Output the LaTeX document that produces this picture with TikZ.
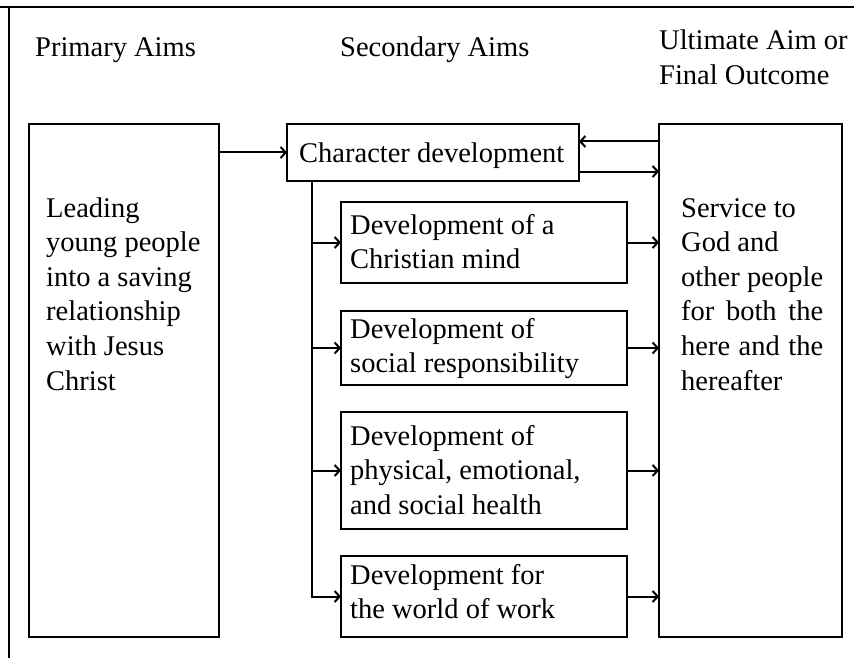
\documentclass[tikz,border=0pt]{standalone}
\usepackage{fontspec}
\setmainfont{Liberation Serif}
\usetikzlibrary{arrows.meta}
% a block of lines whose anchor is the baseline of its first line
\newcommand\lineblock[2]{\parbox[t]{#1}{\raggedright #2}}
\begin{document}
\begin{tikzpicture}[x=1pt,y=-1pt,
  rule/.style={line width=2.2pt},
  box/.style={draw,line width=2.2pt,inner sep=0pt,outer sep=0pt,anchor=north west},
  txt/.style={inner sep=0pt,anchor=base west,font=\fontsize{28.5}{34.6}\selectfont},
  wire/.style={line width=2pt},
  link/.style={line width=2pt,-{Straight Barb[length=5pt,width=11pt,line width=2pt]}},
  ]
\useasboundingbox (0,0) rectangle (854,658);

% outer frame: rule under the heading and left margin line
\draw[rule] (0,7) -- (854,7);
\draw[rule] (9,7) -- (9,658);

% column headings
\node[txt] (hprim) at (35,57) {Primary Aims};
\node[txt] (hsec) at (340,57) {Secondary Aims};
\node[txt] (hult) at (659,50) {\lineblock{190pt}{Ultimate Aim or\\Final Outcome}};

% main boxes
\node[box,minimum width=190pt,minimum height=513pt] (prim) at (29,124) {};
\node[box,minimum width=292pt,minimum height=57pt] (char) at (287,124) {};
\node[box,minimum width=183pt,minimum height=513pt] (ult) at (659,124) {};

% secondary aims
\node[box,minimum width=286pt,minimum height=81pt] (s1) at (341,202) {};
\node[box,minimum width=286pt,minimum height=74pt] (s2) at (341,311) {};
\node[box,minimum width=286pt,minimum height=117pt] (s3) at (341,412) {};
\node[box,minimum width=286pt,minimum height=81pt] (s4) at (341,556) {};

% box texts
\node[txt] (tprim) at (46,217) {\lineblock{170pt}{Leading\\young people\\into a saving\\relationship\\with Jesus\\Christ}};
\node[txt] (tchar) at (299,163) {Character development};
\node[txt] (ts1) at (350,234) {\lineblock{270pt}{Development of a\\Christian mind}};
\node[txt] (ts2) at (350,338) {\lineblock{270pt}{Development of\\social responsibility}};
\node[txt] (ts3) at (350,445) {\lineblock{270pt}{Development of\\physical, emotional,\\and social health}};
\node[txt] (ts4) at (350,584) {\lineblock{270pt}{Development for\\the world of work}};
\node[txt] (tult) at (681,217) {\lineblock{160pt}{Service to\\God and\\\makebox[142pt][s]{other people}\\\makebox[142pt][s]{for both the}\\\makebox[142pt][s]{here and the}\\hereafter}};

% connectors
\draw[link] (prim.east |- char.west) -- (char.west);
\coordinate (back) at ([yshift=11pt]char.east);
\coordinate (fwd) at ([yshift=-19pt]char.east);
\draw[link] (back -| ult.west) -- (back);
\draw[link] (fwd) -- (fwd -| ult.west);

\coordinate (trunk) at ([xshift=25pt]char.south west);
\draw[wire] (trunk) -- (trunk |- s3.west);
\draw[link] (trunk) |- (s4.west);
\foreach \s in {s1,s2,s3}{
  \draw[link] (trunk |- \s.west) -- (\s.west);
}
\foreach \s in {s1,s2,s3,s4}{
  \draw[link] (\s.east) -- (\s.east -| ult.west);
}
\end{tikzpicture}
\end{document}
